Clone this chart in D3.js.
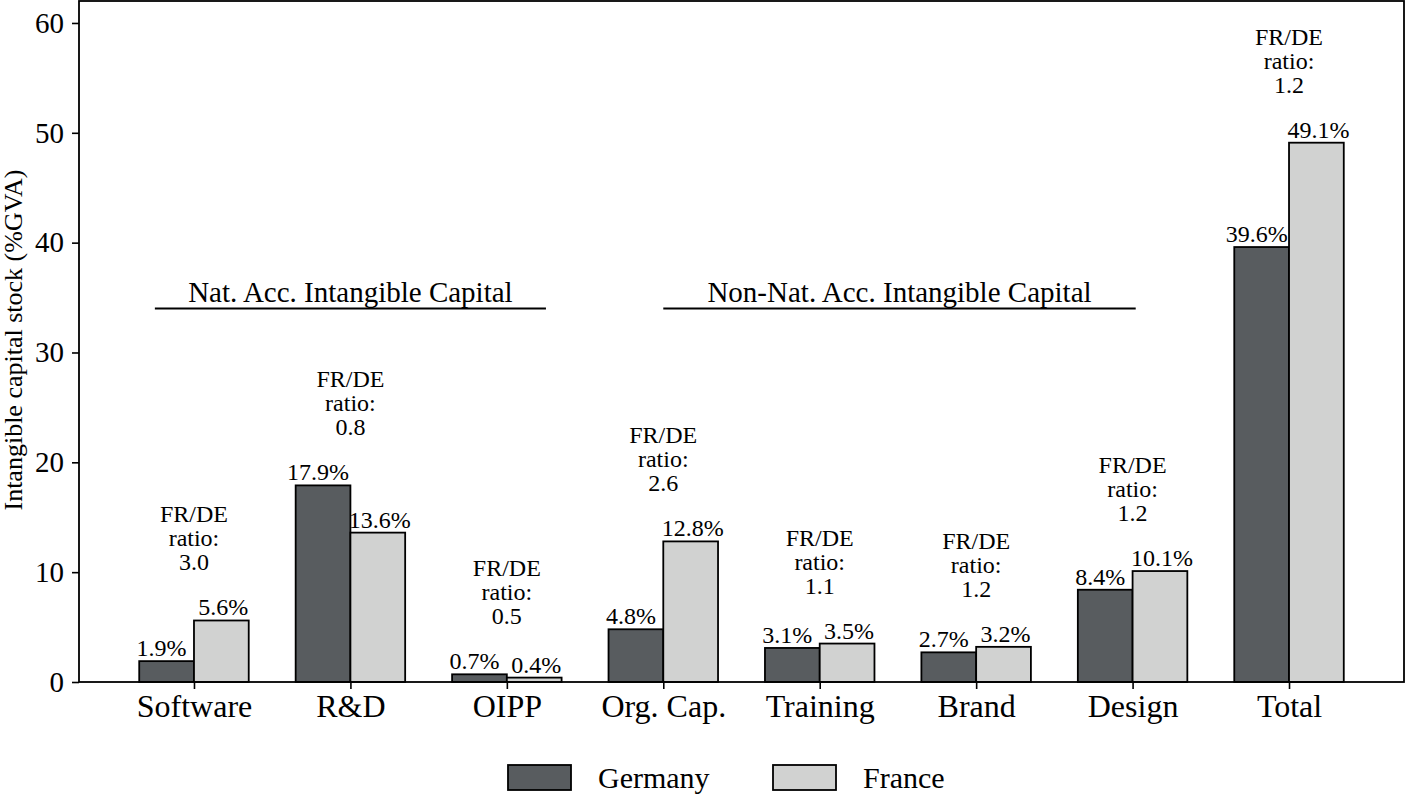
<!DOCTYPE html>
<html>
<head>
<meta charset="utf-8">
<script src="https://cdn.jsdelivr.net/npm/d3@7"></script>
<style>
body { margin: 0; background: #fff; }
svg { font-family: "Liberation Serif", "Times New Roman", serif; }
</style>
</head>
<body>
<div id="chart"></div>
<script>
var width = 1406,
    height = 795;

var categories = ["Software", "R&D", "OIPP", "Org. Cap.", "Training", "Brand", "Design", "Total"];
var germany = [1.9, 17.9, 0.7, 4.8, 3.1, 2.7, 8.4, 39.6];
var france = [5.6, 13.6, 0.4, 12.8, 3.5, 3.2, 10.1, 49.1];
var ratios = ["3.0", "0.8", "0.5", "2.6", "1.1", "1.2", "1.2", "1.2"];
var yTicks = [0, 10, 20, 30, 40, 50, 60];
var groups = [
    { label: "Nat. Acc. Intangible Capital", from: -0.25, to: 2.25, y: 34 },
    { label: "Non-Nat. Acc. Intangible Capital", from: 3.0, to: 6.02, y: 34 }
];
var seriesNames = ["Germany", "France"];

var colorDE = "#585c5f",
    colorFR = "#d1d2d1";

var plotLeft = 79, plotRight = 1404, plotTop = 1, plotBottom = 682;
var barW = 0.35;

var svg = d3.select("#chart")
    .append("svg")
    .attr("width", width)
    .attr("height", height);

var x = d3.scaleLinear().domain([-0.735, 7.735]).range([plotLeft, plotRight]);
var y = d3.scaleLinear().domain([0, 62]).range([plotBottom, plotTop]);

// y axis
var yAxis = svg.append("g")
    .attr("transform", "translate(" + plotLeft + ",0)")
    .call(d3.axisLeft(y).tickValues(yTicks).tickSize(7).tickPadding(8));
yAxis.select(".domain").remove();
yAxis.selectAll("line").attr("stroke-width", 1.6);
yAxis.selectAll("text")
    .style("font-family", "Liberation Serif")
    .style("font-size", "29px")
    .attr("fill", "#000");

// x axis
var xAxis = svg.append("g")
    .attr("transform", "translate(0," + plotBottom + ")")
    .call(d3.axisBottom(x)
        .tickValues(d3.range(categories.length))
        .tickFormat(function (d) { return categories[d]; })
        .tickSize(7).tickPadding(5));
xAxis.select(".domain").remove();
xAxis.selectAll("line").attr("stroke-width", 1.6);
xAxis.selectAll("text")
    .style("font-family", "Liberation Serif")
    .style("font-size", "32px")
    .attr("fill", "#000");

// y label
svg.append("text")
    .attr("transform", "translate(22," + 340 + ")rotate(-90)")
    .attr("text-anchor", "middle")
    .style("font-size", "26px")
    .text("Intangible capital stock (%GVA)");

// bars
var bars = svg.append("g");

bars.selectAll("rect.de")
    .data(germany)
    .enter()
    .append("rect")
    .attr("class", "de")
    .attr("x", function (d, i) { return x(i - barW); })
    .attr("y", function (d) { return y(d); })
    .attr("width", x(barW) - x(0))
    .attr("height", function (d) { return y(0) - y(d); })
    .attr("fill", colorDE)
    .attr("stroke", "#000")
    .attr("stroke-width", 1.8);

bars.selectAll("rect.fr")
    .data(france)
    .enter()
    .append("rect")
    .attr("class", "fr")
    .attr("x", function (d, i) { return x(i); })
    .attr("y", function (d) { return y(d); })
    .attr("width", x(barW) - x(0))
    .attr("height", function (d) { return y(0) - y(d); })
    .attr("fill", colorFR)
    .attr("stroke", "#000")
    .attr("stroke-width", 1.8);

// frame
svg.append("rect")
    .attr("x", plotLeft)
    .attr("y", plotTop)
    .attr("width", plotRight - plotLeft)
    .attr("height", plotBottom - plotTop)
    .attr("fill", "none")
    .attr("stroke", "#000")
    .attr("stroke-width", 1.8);

// value labels
bars.selectAll("text.de")
    .data(germany)
    .enter()
    .append("text")
    .attr("x", function (d, i) { return x(i - barW / 2) - 5; })
    .attr("y", function (d) { return y(d) - 5; })
    .attr("text-anchor", "middle")
    .style("font-size", "24px")
    .text(function (d) { return d.toFixed(1) + "%"; });

bars.selectAll("text.fr")
    .data(france)
    .enter()
    .append("text")
    .attr("x", function (d, i) { return x(i + barW / 2) + 2; })
    .attr("y", function (d) { return y(d) - 5; })
    .attr("text-anchor", "middle")
    .style("font-size", "24px")
    .text(function (d) { return d.toFixed(1) + "%"; });

// ratio annotations
var ratioG = svg.append("g");
ratios.forEach(function (r, i) {
    var barTop = y(Math.max(germany[i], france[i]));
    var t = ratioG.append("text")
        .attr("text-anchor", "middle")
        .style("font-size", "24px");
    var lines = ["FR/DE", "ratio:", r];
    lines.forEach(function (s, k) {
        t.append("tspan")
            .attr("x", x(i))
            .attr("y", barTop - 50 - (2 - k) * 24)
            .text(s);
    });
});

// group brackets
groups.forEach(function (gr) {
    svg.append("line")
        .attr("x1", x(gr.from))
        .attr("x2", x(gr.to))
        .attr("y1", y(gr.y))
        .attr("y2", y(gr.y))
        .attr("stroke", "#000")
        .attr("stroke-width", 2);
    svg.append("text")
        .attr("x", (x(gr.from) + x(gr.to)) / 2)
        .attr("y", y(gr.y) - 7)
        .attr("text-anchor", "middle")
        .style("font-size", "29px")
        .text(gr.label);
});

// legend
var legend = svg.append("g");
var legendX = [508, 773];
seriesNames.forEach(function (name, i) {
    legend.append("rect")
        .attr("x", legendX[i])
        .attr("y", 765)
        .attr("width", 63)
        .attr("height", 25)
        .attr("fill", i === 0 ? colorDE : colorFR)
        .attr("stroke", "#000")
        .attr("stroke-width", 1.8);
    legend.append("text")
        .attr("x", legendX[i] + 90)
        .attr("y", 788)
        .style("font-size", "30px")
        .text(name);
});
</script>
</body>
</html>
